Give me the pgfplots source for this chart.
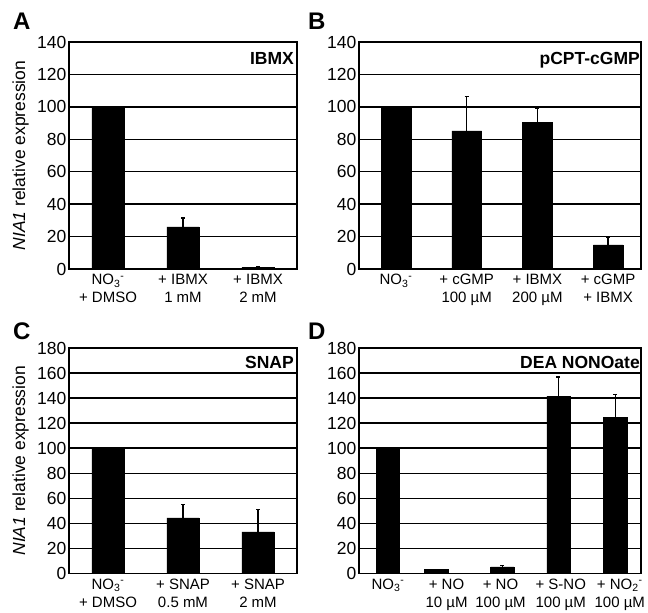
\documentclass[border=0pt]{standalone}
\usepackage{fontspec}
\setmainfont{Liberation Sans}
\usepackage{pgfplots}
\pgfplotsset{compat=1.18}
\newcommand{\nothree}{NO\textsubscript{3}\textsuperscript{-}}
\newcommand{\notwo}{NO\textsubscript{2}\textsuperscript{-}}
\pgfplotsset{
  panel/.style={
    scale only axis, anchor=south west,
    axis line style={line width=1.7pt},
    ymin=0,
    ymajorgrids,
    major grid style={black, line width=1.5pt},
    major tick length=0pt,
    tick style={draw=none},
    yticklabel style={font=\fontsize{17.5}{18}\selectfont, /pgf/number format/assume math mode=true, inner sep=2.5pt},
    xticklabel style={font=\fontsize{15}{18}\selectfont, align=center, anchor=north, inner sep=2pt, yshift=-3pt},
    clip=false,
  },
  bars/.style={
    ybar, bar shift=0pt, fill=black, draw=black,
    error bars/y dir=plus, error bars/y explicit,
    error bars/error bar style={line width=1.4pt},
    error bars/error mark options={rotate=90, mark size=2pt, line width=1.2pt},
  },
}
\begin{document}
\begin{tikzpicture}
\useasboundingbox (0pt,0pt) rectangle (648pt,613pt);
% Panel A
\begin{axis}[panel, at={(69pt,344pt)}, width=228pt, height=227pt,
  xmin=-0.52, xmax=2.52, ymax=140, ytick={0,20,...,140},
  xtick={0,1,2}, xticklabels={{\nothree\\+ DMSO},{+ IBMX\\1 mM},{+ IBMX\\2 mM}}]
\addplot[bars, bar width=0.43] table[x=x, y=y, y error=e] {
x y e
0 100 0
1 26 5.4
2 1 0.5
};
\node[anchor=north east, inner sep=0pt, font=\bfseries\fontsize{17.5}{18}\selectfont] at (rel axis cs:1,1) [xshift=-3pt, yshift=-10pt] {IBMX};
\end{axis}
% Panel B
\begin{axis}[panel, at={(359pt,344pt)}, width=282pt, height=227pt,
  xmin=-0.523, xmax=3.465, ymax=140, ytick={0,20,...,140},
  xtick={0,1,2,3}, xticklabels={{\nothree\\\phantom{X}},{+ cGMP\\100 µM},{+ IBMX\\200 µM},{+ cGMP\\+ IBMX}}]
\addplot[bars, bar width=0.42] table[x=x, y=y, y error=e] {
x y e
0 100 0
1 85.2 21.2
2 90.5 8.7
3 14.8 4.5
};
\node[anchor=north east, inner sep=0pt, font=\bfseries\fontsize{17.5}{18}\selectfont] at (rel axis cs:1,1) [xshift=-1pt, yshift=-10pt] {pCPT-cGMP};
\end{axis}
% Panel C
\begin{axis}[panel, at={(69pt,39.5pt)}, width=228pt, height=225.5pt,
  xmin=-0.52, xmax=2.52, ymax=180, ytick={0,20,...,180},
  xtick={0,1,2}, xticklabels={{\nothree\\+ DMSO},{+ SNAP\\0.5 mM},{+ SNAP\\2 mM}}]
\addplot[bars, bar width=0.43] table[x=x, y=y, y error=e] {
x y e
0 100 0
1 44.4 10.9
2 33.2 17.8
};
\node[anchor=north east, inner sep=0pt, font=\bfseries\fontsize{17.5}{18}\selectfont] at (rel axis cs:1,1) [xshift=-3pt, yshift=-8pt] {SNAP};
\end{axis}
% Panel D
\begin{axis}[panel, at={(359pt,39.5pt)}, width=282pt, height=225.5pt,
  xmin=-0.511, xmax=4.453, ymax=180, ytick={0,20,...,180},
  xtick={0,1.03,1.98,3.04,4.08}, xticklabels={{\nothree\\\phantom{X}},{+ NO\\10 µM},{+ NO\\100 µM},{+ S-NO\\100 µM},{+ \notwo\\100 µM}}]
\addplot[bars, bar width=0.41] table[x=x, y=y, y error=e] {
x y e
0 100 0
0.85 3.2 0
2.01 5.3 1.3
3 141.5 15.4
4 124.7 18.4
};
\node[anchor=north east, inner sep=0pt, font=\bfseries\fontsize{17.5}{18}\selectfont] at (rel axis cs:1,1) [xshift=-1pt, yshift=-8pt] {DEA NONOate};
\end{axis}
% y labels
\node[rotate=90, anchor=base, inner sep=0pt, font=\fontsize{17.5}{18}\selectfont] at (25pt,457.5pt) {\textit{NIA1} relative expression};
\node[rotate=90, anchor=base, inner sep=0pt, font=\fontsize{17.5}{18}\selectfont] at (25pt,152.2pt) {\textit{NIA1} relative expression};
% panel letters
\node[anchor=base west, inner sep=0pt, font=\bfseries\fontsize{24}{26}\selectfont] at (13pt,583pt) {A};
\node[anchor=base west, inner sep=0pt, font=\bfseries\fontsize{24}{26}\selectfont] at (308pt,583pt) {B};
\node[anchor=base west, inner sep=0pt, font=\bfseries\fontsize{24}{26}\selectfont] at (13pt,273pt) {C};
\node[anchor=base west, inner sep=0pt, font=\bfseries\fontsize{24}{26}\selectfont] at (308pt,273pt) {D};
\end{tikzpicture}
\end{document}
